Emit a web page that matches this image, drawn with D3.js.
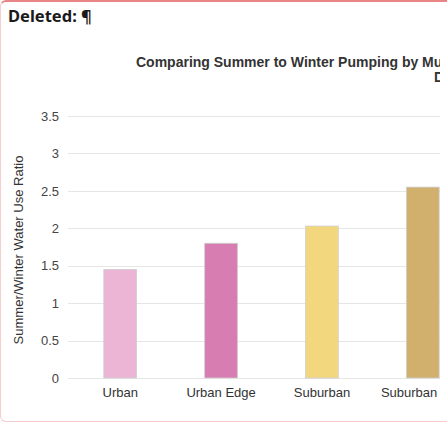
<!DOCTYPE html>
<html>
<head>
<meta charset="utf-8">
<script src="https://cdn.jsdelivr.net/npm/d3@7"></script>
<style>
  html, body { margin: 0; padding: 0; background: #fff; overflow: hidden; }
  #card {
    position: absolute; left: 0; top: 0; width: 470px; height: 422px;
    border: 1px solid #f6cccc; border-top: 2px solid #e98585;
    border-radius: 6px; box-sizing: border-box;
  }
  #heading {
    position: absolute; left: 8px; top: 4px;
    font-family: "Noto Sans", sans-serif; font-weight: bold; font-size: 16.5px; color: #1a1a1a;
  }
  #wrapper { position: absolute; left: 0; top: 0; width: 440px; height: 423px; overflow: hidden; }
</style>
</head>
<body>
<div id="card"></div>
<div id="heading">Deleted: ¶</div>
<div id="wrapper"></div>
<script>
  const categories = ["Urban", "Urban Edge", "Suburban", "Suburban Low"]
  const ratios = [1.45, 1.80, 2.03, 2.55]
  const barColors = ["#ecb4d5", "#d77db2", "#f3d77f", "#d1b06e"]
  const yTicks = [0, 0.5, 1, 1.5, 2, 2.5, 3, 3.5]
  const titleLines = ["Comparing Summer to Winter Pumping by Municipal Land Use", "Density"]

  let dimensions = {
    width: 440,
    height: 423,
    margin: { top: 116, right: -35, bottom: 45, left: 68 },
  }
  dimensions.boundedWidth = dimensions.width - dimensions.margin.left - dimensions.margin.right
  dimensions.boundedHeight = dimensions.height - dimensions.margin.top - dimensions.margin.bottom

  const wrapper = d3.select("#wrapper")
    .append("svg")
      .attr("width", dimensions.width)
      .attr("height", dimensions.height)
      .style("font-family", "Liberation Sans, Arial, sans-serif")

  const bounds = wrapper.append("g")
    .attr("transform", `translate(${dimensions.margin.left}, ${dimensions.margin.top})`)

  // scales
  const xScale = d3.scaleBand()
    .domain(d3.range(categories.length))
    .range([0, dimensions.boundedWidth])
    .paddingInner(0.675)
    .paddingOuter(0.355)

  const yScale = d3.scaleLinear()
    .domain([0, 3.5])
    .range([dimensions.boundedHeight, 0])

  // gridlines
  bounds.append("g")
    .selectAll("line")
    .data(yTicks)
    .enter().append("line")
      .attr("x1", 0)
      .attr("x2", dimensions.boundedWidth)
      .attr("y1", d => Math.round(yScale(d)) + 0.5)
      .attr("y2", d => Math.round(yScale(d)) + 0.5)
      .attr("stroke", "#e6e6e6")

  // y axis
  const yAxis = bounds.append("g")
    .call(d3.axisLeft(yScale).tickValues(yTicks).tickSize(0).tickPadding(9).tickFormat(d3.format("")))
  yAxis.select(".domain").remove()
  yAxis.selectAll("text")
    .attr("font-size", 13)
    .attr("fill", "#444")
    .attr("font-family", "Liberation Sans, Arial, sans-serif")

  // bars
  bounds.selectAll(".bar")
    .data(ratios)
    .enter().append("rect")
      .attr("class", "bar")
      .attr("x", (d, i) => xScale(i))
      .attr("width", xScale.bandwidth())
      .attr("y", d => yScale(d))
      .attr("height", d => dimensions.boundedHeight - yScale(d))
      .attr("fill", (d, i) => barColors[i])
      .attr("stroke", "#cfcfcf")
      .attr("stroke-width", 0.8)

  // x axis
  const xAxis = bounds.append("g")
    .attr("transform", `translate(0, ${dimensions.boundedHeight})`)
    .call(d3.axisBottom(xScale).tickSize(0).tickPadding(10).tickFormat(i => categories[i]))
  xAxis.select(".domain").remove()
  xAxis.selectAll("text")
    .attr("font-size", 13)
    .attr("fill", "#333")
    .attr("font-family", "Liberation Sans, Arial, sans-serif")

  // y label
  wrapper.append("text")
    .attr("transform", `translate(23, ${dimensions.margin.top + dimensions.boundedHeight / 2 + 3}) rotate(-90)`)
    .attr("text-anchor", "middle")
    .attr("font-size", 13)
    .attr("fill", "#333")
    .text("Summer/Winter Water Use Ratio")

  // title
  wrapper.append("text")
    .attr("x", 136)
    .attr("y", 67)
    .attr("font-size", 14)
    .attr("font-weight", "bold")
    .attr("fill", "#333")
    .text(titleLines[0])
  wrapper.append("text")
    .attr("x", 434)
    .attr("y", 82)
    .attr("font-size", 14)
    .attr("font-weight", "bold")
    .attr("fill", "#333")
    .text(titleLines[1])
</script>
</body>
</html>
